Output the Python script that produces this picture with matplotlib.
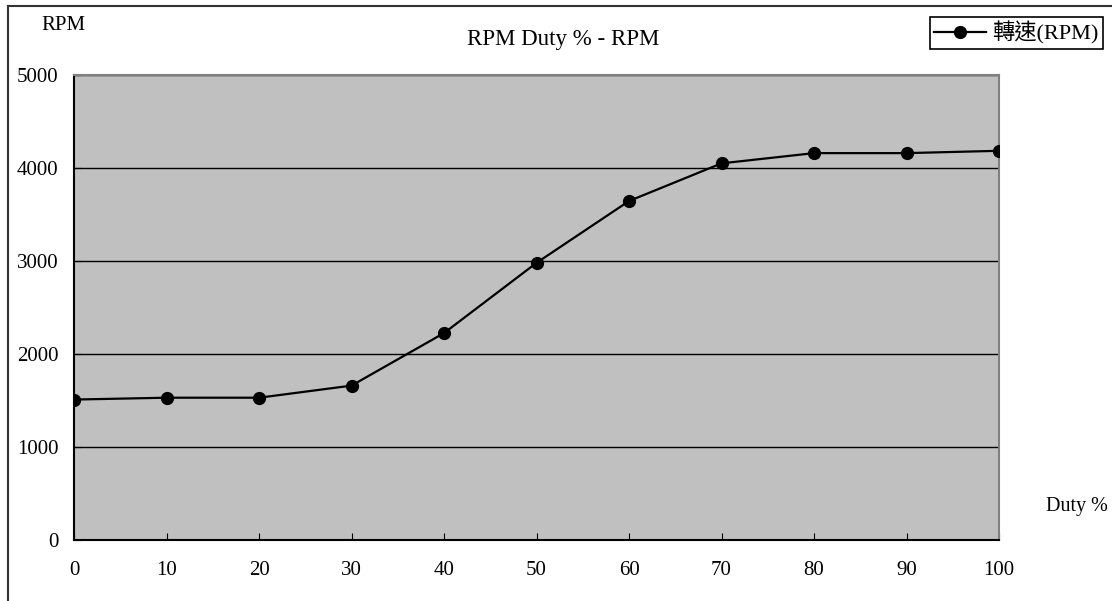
import matplotlib
matplotlib.use("Agg")
import matplotlib.pyplot as plt
from matplotlib.lines import Line2D

plt.rcParams['font.family'] = ['Liberation Serif', 'Noto Sans CJK TC', 'DejaVu Sans']

# data
duty = [0, 10, 20, 30, 40, 50, 60, 70, 80, 90, 100]
rpm = [1510, 1530, 1530, 1660, 2225, 2980, 3645, 4050, 4160, 4160, 4185]
x_ticks = list(range(0, 101, 10))
y_ticks = [0, 1000, 2000, 3000, 4000, 5000]

W, H = 1112, 601
fig = plt.figure(figsize=(W / 100, H / 100), dpi=100)
fig.patch.set_facecolor('white')

# outer chart frame (cut off at right and bottom)
fig.add_artist(Line2D([7.5 / W, 7.5 / W], [0, 1 - 5.5 / H], color='#333333', lw=1.5,
                      transform=fig.transFigure))
fig.add_artist(Line2D([7.5 / W, 1], [1 - 5.5 / H, 1 - 5.5 / H], color='#333333', lw=1.5,
                      transform=fig.transFigure))

ax = fig.add_axes([74 / W, 1 - 540 / H, 925 / W, 465 / H])
ax.set_facecolor('#C0C0C0')
ax.plot(duty, rpm, color='black', lw=1.6, marker='o', markersize=8.5,
        label='轉速(RPM)', zorder=3)

ax.set_xlim(0, 100)
ax.set_ylim(0, 5000)
ax.set_xticks(x_ticks)
ax.set_yticks(y_ticks)
ax.tick_params(axis='x', direction='in', length=5, pad=15, labelsize=15)
ax.tick_params(axis='y', direction='in', length=5, pad=11, labelsize=15)
ax.yaxis.grid(True, color='black', lw=1)
ax.set_axisbelow(True)

for s in ['left', 'bottom']:
    ax.spines[s].set_color('black')
    ax.spines[s].set_linewidth(1.5)
for s in ['top', 'right']:
    ax.spines[s].set_color('#808080')
    ax.spines[s].set_linewidth(1.5)

fig.text(563 / W, 1 - 40 / H, 'RPM Duty % - RPM', ha='center', va='center', fontsize=16.5)
fig.text(63 / W, 1 - 25 / H, 'RPM', ha='center', va='center', fontsize=15)
fig.text(1046 / W, 1 - 507 / H, 'Duty %', ha='left', va='center', fontsize=14.5)

leg = ax.legend(loc='upper left', bbox_to_anchor=(930 / W, 1 - 17 / H),
                bbox_transform=fig.transFigure, frameon=True, fancybox=False,
                edgecolor='black', framealpha=1, fontsize=16, borderpad=0.2,
                handlelength=2.3, handletextpad=0.3, borderaxespad=0)
leg.get_frame().set_linewidth(1.2)

fig.savefig('out.png', dpi=100)
